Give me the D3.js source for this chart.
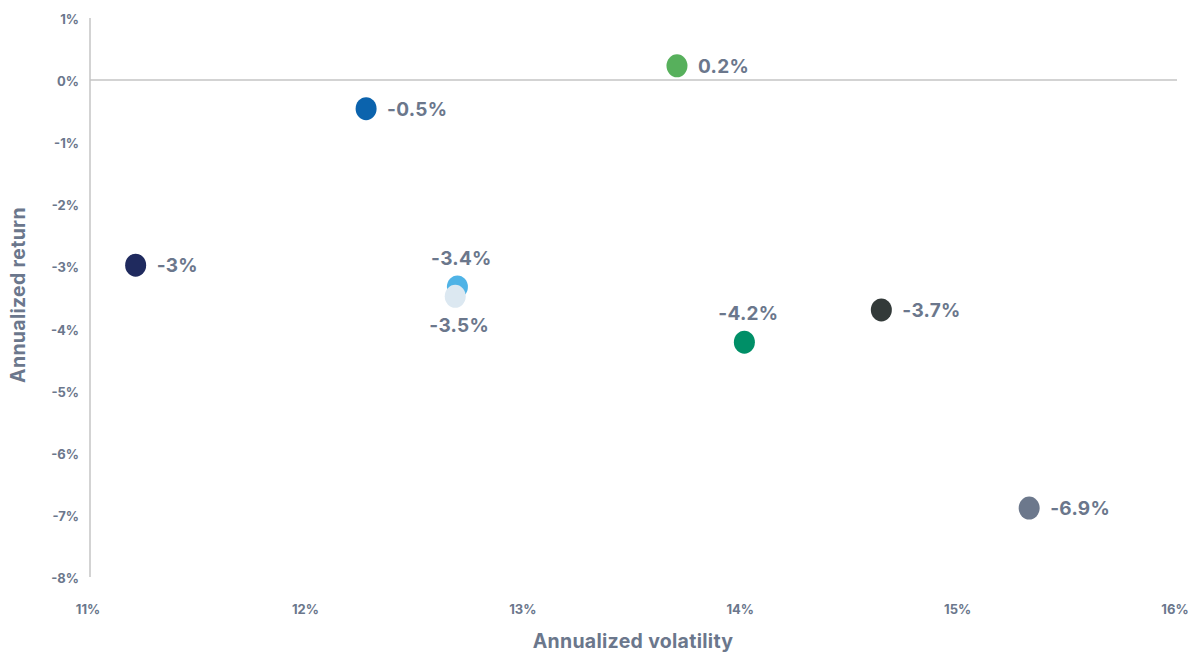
<!DOCTYPE html>
<html>
<head>
<meta charset="utf-8">
<script src="https://cdn.jsdelivr.net/npm/d3@7"></script>
<style>
  body { margin: 0; background: #fff; }
  svg text { font-family: "Inter", "Lato", sans-serif; font-weight: 700; fill: #6b778c; }
</style>
</head>
<body>
<div class="chart"></div>
<script>
// data
const volatility = [11.21, 12.27, 13.70, 12.69, 12.68, 14.01, 14.64, 15.32]
const returns = [-2.98, -0.46, 0.23, -3.33, -3.48, -4.22, -3.70, -6.89]
const labels = ['-3%', '-0.5%', '0.2%', '-3.4%', '-3.5%', '-4.2%', '-3.7%', '-6.9%']
const labelPos = ['right', 'right', 'right', 'top', 'bottom', 'top', 'right', 'right']
const colors = ['#1f2a5e', '#0b63ad', '#57b05c', '#4fb3e6', '#dce8f1', '#008f67', '#333a39', '#6c788c']
const xTicks = [11, 12, 13, 14, 15, 16]
const yTicks = [1, 0, -1, -2, -3, -4, -5, -6, -7, -8]

const width = 1189
const height = 652

const x = d3.scaleLinear().domain([11, 16]).range([90, 1177])
const y = d3.scaleLinear().domain([-8, 1]).range([577, 18])

const svg = d3.select('.chart')
  .append('svg')
  .attr('width', width)
  .attr('height', height)

// y axis line
svg.append('line')
  .attr('x1', x(11)).attr('x2', x(11))
  .attr('y1', y(1)).attr('y2', y(-8))
  .attr('stroke', '#c4c4c4')
  .attr('stroke-width', 1.5)

// zero line
svg.append('line')
  .attr('x1', x(11)).attr('x2', x(16))
  .attr('y1', y(0)).attr('y2', y(0))
  .attr('stroke', '#c4c4c4')
  .attr('stroke-width', 1.5)

// y tick labels
svg.append('g')
  .selectAll('text')
  .data(yTicks)
  .enter()
  .append('text')
  .attr('x', 79)
  .attr('y', d => y(d) + 1.5)
  .attr('dy', '0.35em')
  .attr('text-anchor', 'end')
  .attr('font-size', 13)
  .text(d => d + '%')

// x tick labels
svg.append('g')
  .selectAll('text')
  .data(xTicks)
  .enter()
  .append('text')
  .attr('x', d => x(d) - 2)
  .attr('y', 614)
  .attr('text-anchor', 'middle')
  .attr('font-size', 13)
  .text(d => d + '%')

// axis titles
svg.append('text')
  .attr('x', 633)
  .attr('y', 648)
  .attr('text-anchor', 'middle')
  .attr('font-size', 19.5)
  .attr('letter-spacing', 0.3)
  .text('Annualized volatility')

svg.append('text')
  .attr('transform', `translate(25, 295) rotate(-90)`)
  .attr('text-anchor', 'middle')
  .attr('font-size', 19.5)
  .attr('letter-spacing', 0.3)
  .text('Annualized return')

// dots
const idx = d3.range(volatility.length)

svg.append('g')
  .selectAll('ellipse')
  .data(idx)
  .enter()
  .append('ellipse')
  .attr('cx', i => x(volatility[i]))
  .attr('cy', i => y(returns[i]))
  .attr('rx', 10.5)
  .attr('ry', 11.5)
  .attr('fill', i => colors[i])

// value labels
svg.append('g')
  .selectAll('text')
  .data(idx)
  .enter()
  .append('text')
  .attr('x', i => labelPos[i] === 'right' ? x(volatility[i]) + 21 : x(volatility[i]) + 4)
  .attr('y', i => {
    const cy = y(returns[i])
    if (labelPos[i] === 'top') return cy - 22
    if (labelPos[i] === 'bottom') return cy + 36
    return cy + 7
  })
  .attr('text-anchor', i => labelPos[i] === 'right' ? 'start' : 'middle')
  .attr('font-size', 19)
  .attr('letter-spacing', 0.3)
  .text(i => labels[i])
</script>
</body>
</html>
